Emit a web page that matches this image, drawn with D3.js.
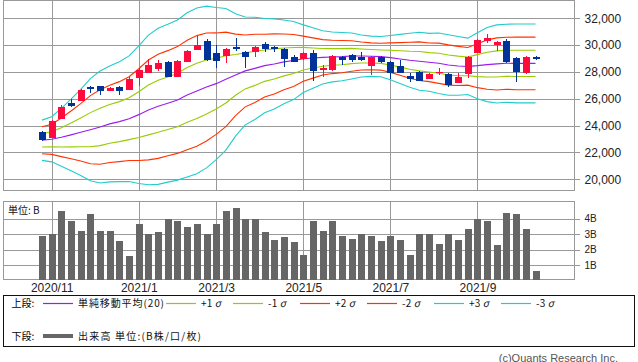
<!DOCTYPE html>
<html>
<head>
<meta charset="utf-8">
<script src="https://cdn.jsdelivr.net/npm/d3@7"></script>
<style>
  body { margin: 0; background: #fff; }
  svg { display: block; }
</style>
</head>
<body>
<svg id="chart" width="638" height="362"></svg>
<script>
// weekly bars, 2020/10/26 .. 2021/10/18
var weeks = ["2020-10-26","2020-11-02","2020-11-09","2020-11-16","2020-11-23","2020-11-30","2020-12-07","2020-12-14","2020-12-21","2020-12-28",
  "2021-01-04","2021-01-11","2021-01-18","2021-01-25","2021-02-01","2021-02-08","2021-02-15","2021-02-22","2021-03-01","2021-03-08",
  "2021-03-15","2021-03-22","2021-03-29","2021-04-05","2021-04-12","2021-04-19","2021-04-26","2021-05-03","2021-05-10","2021-05-17",
  "2021-05-24","2021-05-31","2021-06-07","2021-06-14","2021-06-21","2021-06-28","2021-07-05","2021-07-12","2021-07-19","2021-07-26",
  "2021-08-02","2021-08-09","2021-08-16","2021-08-23","2021-08-30","2021-09-06","2021-09-13","2021-09-20","2021-09-27","2021-10-04",
  "2021-10-11","2021-10-18"];

var open = [23550,23110,24500,25670,25860,26860,26960,26610,26880,26680,
  27580,27950,28250,28770,27650,28770,29670,30310,29420,29220,
  29860,29490,29470,30110,29860,29740,29140,28950,29440,28150,
  28150,29090,29270,29140,28470,29140,28750,28450,27700,28030,
  27480,27900,27850,27210,27850,29440,30290,29990,30310,29040,
  27930,29120];
var high = [23600,24420,25540,25990,26710,26960,26990,26860,26930,27650,
  28270,28950,28900,28820,28870,29640,30710,30440,30010,29760,
  30560,29590,29910,30240,29940,29810,29270,29490,29640,28520,
  29240,29190,29320,29520,29190,29190,28790,28900,27950,28080,
  27950,28270,27900,27950,29190,30430,30830,30290,30460,29090,
  29170,29190];
var low = [22880,23060,24470,25370,25840,26410,26290,26560,26290,26660,
  26960,27900,28100,27600,27600,28750,29640,28850,28320,28650,
  29590,28320,29140,29520,29520,28400,28720,28900,27330,27600,
  28100,28520,28720,28850,27780,28650,27480,27900,27280,27360,
  27450,27780,26910,27180,27580,29390,30190,29570,28650,27280,
  27850,28900];
var close = [22930,24350,25370,25470,26660,26760,26610,26810,26610,27480,
  28150,28520,28700,27650,28820,29570,30010,28900,28850,29720,
  29720,29140,29860,29720,29690,28970,28770,29440,28100,28320,
  29190,28900,28900,28900,29140,28720,27950,27950,27480,27360,
  27850,28030,27030,27650,29090,30380,30530,30240,28750,28030,
  29120,28990];

// volume, billions
var volume = [2.91,3.04,4.51,3.81,3.23,4.32,3.23,3.17,2.53,1.57,
  3.62,3.04,3.11,4.00,3.87,3.43,3.68,3.04,3.62,4.45,
  4.70,4.00,4.00,3.11,2.60,2.79,2.47,1.64,3.81,3.23,
  3.87,2.85,2.72,2.98,2.91,2.53,2.85,2.60,1.64,2.98,
  2.98,2.40,2.98,2.60,3.30,3.94,3.81,2.28,4.38,4.26,
  3.30,0.62];

// 20 week moving average and its sigma
var ma20 = [22910,22980,23130,23310,23500,23700,23900,24130,24300,24520,
  24820,25170,25440,25670,25910,26290,26590,26880,27130,27450,
  27780,28080,28270,28470,28600,28750,28850,28990,29040,29090,
  29120,29140,29190,29190,29170,29140,29070,28970,28870,28800,
  28720,28650,28520,28450,28420,28470,28550,28600,28650,28640,
  28640,28640];
var sigma = [500,560,720,890,1070,1270,1390,1440,1490,1560,
  1710,1860,1940,1960,1990,2040,2060,2010,1890,1760,
  1520,1340,1270,1170,1120,1040,970,840,750,660,
  620,600,570,520,500,500,550,610,670,720,
  720,750,750,730,700,820,920,970,970,980,
  980,980];

var xTickWeeks = ["2020-11-02","2021-01-04","2021-03-01","2021-05-03","2021-07-05","2021-09-06"];
var xTickLabels = ["2020/11","2021/1","2021/3","2021/5","2021/7","2021/9"];
var priceTicks = [20000,22000,24000,26000,28000,30000,32000];
var volTicks = [1,2,3,4];
var volTickLabels = ["1B","2B","3B","4B"];

var bandK = [0,1,-1,2,-2,3,-3];
var bandColors = ["#9a1cf0","#99cc00","#99cc00","#ff3300","#ff3300","#22cccc","#22cccc"];
var legendLabels = ["単純移動平均(20)","+1","-1","+2","-2","+3","-3"];

var upColor = "#ff0a3c", downColor = "#003399", gridColor = "#999999", volColor = "#666666";
var latin = "'Liberation Sans', Arial, sans-serif";
var cjk = "'Noto Sans CJK JP', sans-serif";

var L = 3.5, R = 574.5;
var pTop = 0.5, pBot = 190.5, vTop = 201.5, vBot = 279.5;

var svg = d3.select("#chart");

var x = d3.scalePoint().domain(weeks).range([42, 535.5]);
var y = d3.scaleLinear().domain([20000, 32000]).range([179.3, 18.3]);
var yv = d3.scaleLinear().domain([0, 4]).range([281, 218.5]);

// grid lines
var grid = svg.append("g").attr("stroke", gridColor).attr("shape-rendering", "crispEdges");
grid.selectAll(".hp").data(priceTicks).enter().append("line")
  .attr("x1", L).attr("x2", R)
  .attr("y1", function(d) { return Math.round(y(d)) + 0.5; })
  .attr("y2", function(d) { return Math.round(y(d)) + 0.5; });
grid.selectAll(".hv").data(volTicks).enter().append("line")
  .attr("x1", L).attr("x2", R)
  .attr("y1", function(d) { return Math.round(yv(d)) + 0.5; })
  .attr("y2", function(d) { return Math.round(yv(d)) + 0.5; });
xTickWeeks.forEach(function(w) {
  var xx = Math.round(x(w)) + 0.5;
  grid.append("line").attr("x1", xx).attr("x2", xx).attr("y1", pTop).attr("y2", pBot);
  grid.append("line").attr("x1", xx).attr("x2", xx).attr("y1", vTop).attr("y2", vBot);
});
grid.append("rect").attr("x", L).attr("y", pTop).attr("width", R - L).attr("height", pBot - pTop).attr("fill", "none");
grid.append("rect").attr("x", L).attr("y", vTop).attr("width", R - L).attr("height", vBot - vTop).attr("fill", "none");

// bollinger bands
bandK.forEach(function(k, j) {
  var line = d3.line()
    .x(function(d, i) { return x(weeks[i]); })
    .y(function(d, i) { return y(ma20[i] + k * sigma[i]); });
  svg.append("path").datum(ma20)
    .attr("d", line)
    .attr("fill", "none")
    .attr("stroke", bandColors[j])
    .attr("stroke-width", 1.1);
});

// candles
var candles = svg.append("g").attr("shape-rendering", "crispEdges");
var idx = d3.range(weeks.length);
candles.selectAll(".wick").data(idx).enter().append("line")
  .attr("x1", function(i) { return Math.round(x(weeks[i])) + 0.5; })
  .attr("x2", function(i) { return Math.round(x(weeks[i])) + 0.5; })
  .attr("y1", function(i) { return y(high[i]); })
  .attr("y2", function(i) { return y(low[i]); })
  .attr("stroke", function(i) { return close[i] >= open[i] ? upColor : downColor; });
candles.selectAll(".body").data(idx).enter().append("rect")
  .attr("x", function(i) { return Math.round(x(weeks[i])) - 3; })
  .attr("width", 7)
  .attr("y", function(i) { return y(Math.max(open[i], close[i])); })
  .attr("height", function(i) { return Math.max(1, Math.abs(y(open[i]) - y(close[i]))); })
  .attr("fill", function(i) { return close[i] >= open[i] ? upColor : downColor; });

// volume
svg.append("g").attr("shape-rendering", "crispEdges")
  .selectAll("rect").data(idx).enter().append("rect")
  .attr("x", function(i) { return Math.round(x(weeks[i])) - 3; })
  .attr("width", 7)
  .attr("y", function(i) { return yv(volume[i]); })
  .attr("height", function(i) { return vBot - yv(volume[i]); })
  .attr("fill", volColor);

// axes
var yAxis = svg.append("g").attr("transform", "translate(" + R + ",0)")
  .call(d3.axisRight(y).tickValues(priceTicks).tickSize(5).tickPadding(5).tickFormat(d3.format(",")));
var vAxis = svg.append("g").attr("transform", "translate(" + R + ",0)")
  .call(d3.axisRight(yv).tickValues(volTicks).tickSize(5).tickPadding(5)
    .tickFormat(function(d, i) { return volTickLabels[i]; }));
var xAxis = svg.append("g").attr("transform", "translate(0," + vBot + ")")
  .call(d3.axisBottom(x).tickValues(xTickWeeks).tickSize(0).tickPadding(4)
    .tickFormat(function(d, i) { return xTickLabels[i]; }));
[yAxis, vAxis, xAxis].forEach(function(a) {
  a.select(".domain").remove();
  a.selectAll("line").attr("stroke", gridColor).attr("shape-rendering", "crispEdges");
  a.selectAll("text").attr("fill", "#222").attr("font-family", latin).attr("font-size", 12);
});
vAxis.selectAll("text").attr("font-size", 10);

svg.append("text").attr("x", 8).attr("y", 213.5)
  .attr("font-family", cjk).attr("font-size", 10).attr("fill", "#111")
  .text("単位: B");

// legend
var lg = svg.append("g");
lg.append("rect").attr("x", L).attr("y", 295.5).attr("width", 631).attr("height", 50.5)
  .attr("fill", "none").attr("stroke", "#111").attr("shape-rendering", "crispEdges");
var legendX = [43, 166, 233, 300, 367, 434, 501];
lg.append("text").attr("x", 11.5).attr("y", 306.5).attr("font-family", cjk).attr("font-size", 10).text("上段:");
legendLabels.forEach(function(lab, j) {
  lg.append("line").attr("x1", legendX[j]).attr("x2", legendX[j] + 30)
    .attr("y1", 303.5).attr("y2", 303.5)
    .attr("stroke", bandColors[j]).attr("stroke-width", 1.2);
  var t = lg.append("text").attr("x", legendX[j] + 35).attr("y", 306.5)
    .attr("font-family", cjk).attr("font-size", 10).attr("fill", "#111")
    .attr("letter-spacing", j == 0 ? 0.9 : 0.3);
  t.append("tspan").text(lab);
  if (j > 0) t.append("tspan").attr("font-style", "italic").attr("dx", 2).text("σ");
});
lg.append("text").attr("x", 11.5).attr("y", 339.5).attr("font-family", cjk).attr("font-size", 10).text("下段:");
lg.append("line").attr("x1", 43).attr("x2", 73).attr("y1", 336).attr("y2", 336)
  .attr("stroke", volColor).attr("stroke-width", 4);
lg.append("text").attr("x", 78).attr("y", 339.5).attr("font-family", cjk).attr("font-size", 10).attr("fill", "#111")
  .attr("letter-spacing", 1.2)
  .text("出来高 単位:(B株/口/枚)");

svg.append("text").attr("x", 618).attr("y", 361.5).attr("text-anchor", "end")
  .attr("font-family", latin).attr("font-size", 11).attr("fill", "#555")
  .text("(c)Quants Research Inc.");
</script>
</body>
</html>
